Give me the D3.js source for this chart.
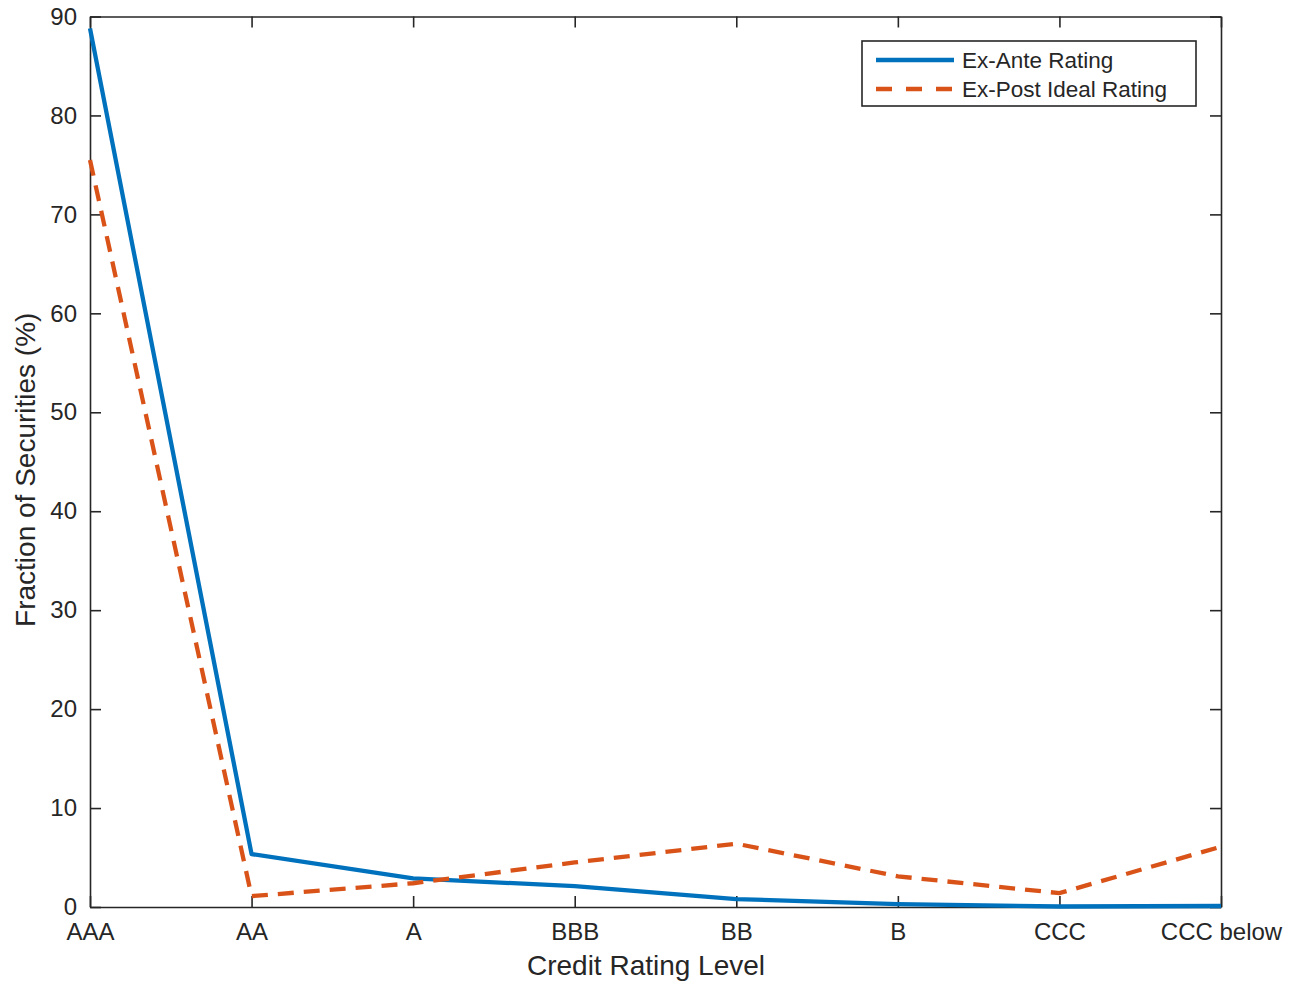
<!DOCTYPE html>
<html>
<head>
<meta charset="utf-8">
<script src="https://cdn.jsdelivr.net/npm/d3@7"></script>
<style>
  body { margin: 0; background: #fff; }
  text { font-family: "Liberation Sans", Arial, Helvetica, sans-serif; fill: #262626; }
</style>
</head>
<body>
<div class="content"></div>
<script>
// DATA
var ratings = ['AAA', 'AA', 'A', 'BBB', 'BB', 'B', 'CCC', 'CCC below'];
var exAnte = [88.8, 5.35, 2.9, 2.1, 0.8, 0.3, 0.05, 0.1];
var exPost = [75.5, 1.1, 2.4, 4.5, 6.4, 3.1, 1.4, 6.1];
var yTicks = [0, 10, 20, 30, 40, 50, 60, 70, 80, 90];

// VARIABLES
var w = 1297,
    h = 984,
    margin = {left: 90, top: 16.5, right: 76, bottom: 77};

var svg = d3.select('.content').append('svg')
    .attr('width', w)
    .attr('height', h);

// SCALES
var x = d3.scalePoint()
    .domain(ratings)
    .range([margin.left, w - margin.right]);

var y = d3.scaleLinear()
    .domain([0, 90])
    .range([h - margin.bottom, margin.top]);

var axisColor = '#262626',
    tickLen = 11;

// AXES
var xAxis = svg.append('g')
    .attr('transform', 'translate(0,' + y(0) + ')')
    .call(d3.axisBottom(x).tickSizeInner(-tickLen).tickSizeOuter(0).tickPadding(16));

var xTop = svg.append('g')
    .attr('transform', 'translate(0,' + y(90) + ')')
    .call(d3.axisTop(x).tickSizeInner(-tickLen).tickSizeOuter(0).tickFormat(''));

var yAxis = svg.append('g')
    .attr('transform', 'translate(' + margin.left + ',0)')
    .call(d3.axisLeft(y).tickValues(yTicks).tickSizeInner(-tickLen).tickSizeOuter(0).tickPadding(13));

var yRight = svg.append('g')
    .attr('transform', 'translate(' + (w - margin.right) + ',0)')
    .call(d3.axisRight(y).tickValues(yTicks).tickSizeInner(-tickLen).tickSizeOuter(0).tickFormat(''));

svg.selectAll('.domain, .tick line')
    .attr('stroke', axisColor)
    .attr('stroke-width', 1.6);

svg.selectAll('.tick text')
    .attr('fill', axisColor)
    .style('font-family', '"Liberation Sans", Arial, sans-serif')
    .style('font-size', '24px');

// LINES
var line = d3.line()
    .x(function(d, i) { return x(ratings[i]); })
    .y(function(d) { return y(d); });

svg.append('path')
    .datum(exAnte)
    .attr('fill', 'none')
    .attr('stroke', '#0072BD')
    .attr('stroke-width', 4.3)
    .attr('stroke-linejoin', 'round')
    .attr('d', line);

svg.append('path')
    .datum(exPost)
    .attr('fill', 'none')
    .attr('stroke', '#D95319')
    .attr('stroke-width', 4.3)
    .attr('stroke-dasharray', '16,10')
    .attr('d', line);

// LABELS
svg.append('text')
    .attr('x', 646)
    .attr('y', 975)
    .attr('text-anchor', 'middle')
    .style('font-size', '28px')
    .text('Credit Rating Level');

svg.append('text')
    .attr('transform', 'translate(35,' + ((margin.top + h - margin.bottom) / 2 + 8) + ') rotate(-90)')
    .attr('text-anchor', 'middle')
    .style('font-size', '28px')
    .text('Fraction of Securities (%)');

// LEGEND
var legend = svg.append('g').attr('transform', 'translate(862,41)');

legend.append('rect')
    .attr('width', 334)
    .attr('height', 65)
    .attr('fill', '#fff')
    .attr('stroke', axisColor)
    .attr('stroke-width', 1.6);

var entries = [
    {name: 'Ex-Ante Rating', color: '#0072BD', dash: null},
    {name: 'Ex-Post Ideal Rating', color: '#D95319', dash: '16,14'}
];

entries.forEach(function(e, i) {
    var yy = 19 + i * 29;
    legend.append('line')
        .attr('x1', 14).attr('x2', 92)
        .attr('y1', yy).attr('y2', yy)
        .attr('stroke', e.color)
        .attr('stroke-width', 4.3)
        .attr('stroke-dasharray', e.dash);
    legend.append('text')
        .attr('x', 100)
        .attr('y', yy)
        .attr('dy', '0.36em')
        .style('font-size', '22.5px')
        .attr('fill', '#000')
        .text(e.name);
});
</script>
</body>
</html>
